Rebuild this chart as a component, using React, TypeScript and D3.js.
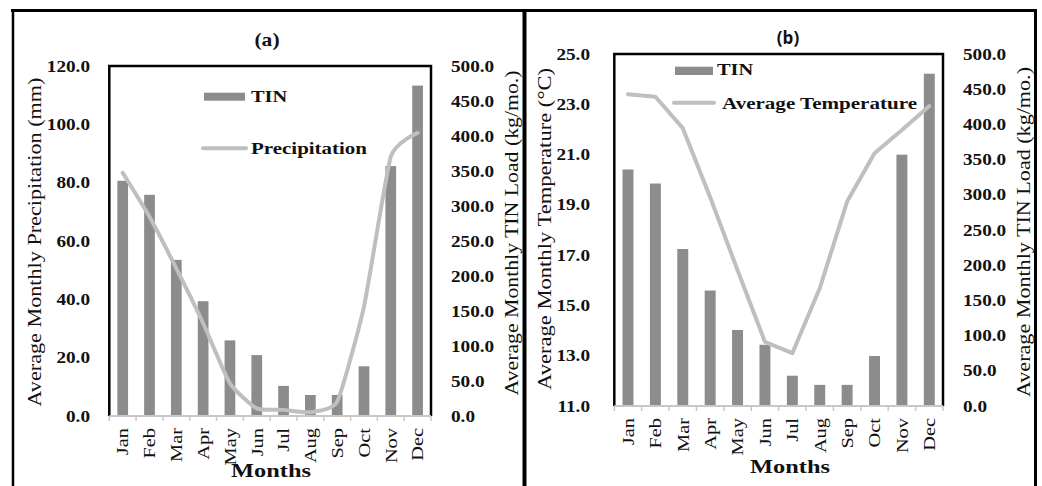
import React from "react";
import * as d3 from "d3";

// Monthly values shared by both panels
const months = ["Jan", "Feb", "Mar", "Apr", "May", "Jun", "Jul", "Aug", "Sep", "Oct", "Nov", "Dec"];
const tinLoad = [336, 316, 223, 164, 108, 87, 43, 30, 30, 71, 357, 472];
const precipitation = [83.4, 68.3, 50.6, 31.8, 11.2, 2.6, 2.1, 1.3, 4.9, 37.5, 88.9, 97.1];
const temperature = [23.4, 23.3, 22.05, 19.3, 16.4, 13.55, 13.1, 15.68, 19.13, 21.05, 21.98, 22.93];

// Tick values
const precipTicks = [0, 20, 40, 60, 80, 100, 120];
const tempTicks = [11, 13, 15, 17, 19, 21, 23, 25];
const loadTicks = [0, 50, 100, 150, 200, 250, 300, 350, 400, 450, 500];

const BAR = "#8c8c8c";
const LINE = "#bfbfbf";
const AXIS = "#c8c8c8";
const SERIF = "'Liberation Serif', 'Times New Roman', serif";
const INK = "#111";
const WIDE = 1.2; // horizontal widening of the serif face

type TProps = {
  x: number;
  y: number;
  children: React.ReactNode;
  size: number;
  bold?: boolean;
  anchor?: "start" | "middle" | "end";
  rotate?: number;
  len?: number;
  dy?: string;
  family?: string;
  sx?: number;
};

// text placed at (x,y), optionally rotated, widened by a scale or by an exact length
function T({ x, y, children, size, bold, anchor = "start", rotate = 0, len, dy, family = SERIF, sx = WIDE }: TProps) {
  const scale = len ? 1 : sx;
  return (
    <text
      transform={`translate(${x},${y}) rotate(${rotate}) scale(${scale},1)`}
      textAnchor={anchor}
      dy={dy}
      fontFamily={family}
      fontWeight={bold ? "bold" : "normal"}
      fontSize={size}
      fill={INK}
      textLength={len}
      lengthAdjust={len ? "spacingAndGlyphs" : undefined}
    >
      {children}
    </text>
  );
}

type PanelProps = {
  tag: string;
  tagX: number;
  tagY: number;
  tagSans: boolean;
  box: { x0: number; x1: number; y0: number; y1: number };
  leftDomain: [number, number];
  leftTicks: number[];
  lineValues: number[];
  curve: d3.CurveFactory;
  leftTitle: string;
  leftTitleX: number;
  leftTitleLen: number;
  leftTitleY: number;
  leftLabelX: number;
  rightLabelX: number;
  rightTitleX: number;
  rightTitleY: number;
  rightTitleLen: number;
  monthsX: number;
  monthsY: number;
  legend: {
    barX: number; barY: number; barW: number; barH: number; barTextX: number; barTextY: number;
    lineX: number; lineY: number; lineW: number; lineTextX: number; lineTextY: number;
    lineLabel: string; lineLabelLen: number;
  };
};

function Panel(p: PanelProps) {
  const { box } = p;
  const x = d3.scaleBand<string>().domain(months).range([box.x0, box.x1]).padding(0);
  const yL = d3.scaleLinear().domain(p.leftDomain).range([box.y1, box.y0]);
  const yR = d3.scaleLinear().domain([0, 500]).range([box.y1, box.y0]);
  const bw = x.bandwidth() * 0.4;
  const cx = (m: string) => (x(m) as number) + x.bandwidth() / 2;

  const linePath = d3
    .line<number>()
    .x((_, i) => cx(months[i]))
    .y((v) => yL(v))
    .curve(p.curve)(p.lineValues) as string;

  const boundaries = months.map((m) => x(m) as number).concat([box.x1]);
  const lg = p.legend;

  return (
    <g>
      {/* bars: TIN load on right axis */}
      {months.map((m, i) => (
        <rect key={m} x={cx(m) - bw / 2} y={yR(tinLoad[i])} width={bw} height={yR(0) - yR(tinLoad[i])} fill={BAR} />
      ))}
      {/* line on left axis */}
      <path d={linePath} fill="none" stroke={LINE} strokeWidth={4} strokeLinejoin="round" strokeLinecap="round" />

      {/* plot frame */}
      <path d={`M${box.x0},${box.y1} V${box.y0} H${box.x1} V${box.y1}`} fill="none" stroke="#000" strokeWidth={2.5} />
      {/* category axis */}
      <line x1={box.x0} x2={box.x1} y1={box.y1} y2={box.y1} stroke={AXIS} strokeWidth={2} />
      {boundaries.map((b, i) => (
        <line key={i} x1={b} x2={b} y1={box.y1} y2={box.y1 + 5} stroke={AXIS} strokeWidth={1.5} />
      ))}
      {months.map((m) => (
        <T key={m} x={cx(m)} y={box.y1 + 12} rotate={-90} anchor="end" dy="0.34em" size={17}>
          {m}
        </T>
      ))}
      <T x={p.monthsX} y={p.monthsY} anchor="middle" bold size={18} len={80}>
        Months
      </T>

      {/* left ticks */}
      {p.leftTicks.map((t) => (
        <T key={t} x={p.leftLabelX} y={yL(t)} dy="0.35em" anchor="end" bold size={16}>
          {t.toFixed(1)}
        </T>
      ))}
      {/* right ticks */}
      {loadTicks.map((t) => (
        <T key={t} x={p.rightLabelX} y={yR(t)} dy="0.35em" anchor="start" bold size={16}>
          {t.toFixed(1)}
        </T>
      ))}

      {/* axis titles */}
      <T x={p.leftTitleX} y={p.leftTitleY} rotate={-90} anchor="middle" size={18} len={p.leftTitleLen}>
        {p.leftTitle}
      </T>
      <T x={p.rightTitleX} y={p.rightTitleY} rotate={-90} anchor="middle" size={18} len={p.rightTitleLen}>
        Average Monthly TIN Load (kg/mo.)
      </T>

      {/* panel tag */}
      {p.tagSans ? (
        <T x={p.tagX} y={p.tagY} anchor="middle" bold size={17} family="'Open Sans', sans-serif" sx={1}>
          {p.tag}
        </T>
      ) : (
        <T x={p.tagX} y={p.tagY} anchor="middle" bold size={18}>
          {p.tag}
        </T>
      )}

      {/* legend */}
      <rect x={lg.barX} y={lg.barY} width={lg.barW} height={lg.barH} fill={BAR} />
      <T x={lg.barTextX} y={lg.barTextY} bold size={17}>
        TIN
      </T>
      <line x1={lg.lineX} x2={lg.lineX + lg.lineW} y1={lg.lineY} y2={lg.lineY} stroke={LINE} strokeWidth={4} strokeLinecap="round" />
      <T x={lg.lineTextX} y={lg.lineTextY} bold size={17} len={lg.lineLabelLen}>
        {lg.lineLabel}
      </T>
    </g>
  );
}

export default function App() {
  return (
    <svg width={1042} height={486} style={{ position: "absolute", left: 0, top: 0, background: "#fff" }}>
      <rect width={1042} height={486} fill="#fff" />
      {/* outer figure frame */}
      <line x1={11} x2={1037} y1={10.5} y2={10.5} stroke="#000" strokeWidth={3} />
      <line x1={13} x2={13} y1={9} y2={486} stroke="#000" strokeWidth={2.5} />
      <line x1={524.5} x2={524.5} y1={9} y2={486} stroke="#000" strokeWidth={4} />
      <line x1={1035.5} x2={1035.5} y1={9} y2={486} stroke="#000" strokeWidth={3} />

      <Panel
        tag="(a)"
        tagSans={false}
        tagX={267}
        tagY={46}
        box={{ x0: 109.3, x1: 431, y0: 66, y1: 416 }}
        leftDomain={[0, 120]}
        leftTicks={precipTicks}
        lineValues={precipitation}
        curve={d3.curveCardinal.tension(0.5)}
        leftTitle="Average Monthly Precipitation (mm)"
        leftTitleX={41}
        leftTitleY={242}
        leftTitleLen={329}
        leftLabelX={90}
        rightLabelX={451}
        rightTitleX={518}
        rightTitleY={233}
        rightTitleLen={325}
        monthsX={271}
        monthsY={477}
        legend={{
          barX: 204, barY: 92.7, barW: 41, barH: 8, barTextX: 251, barTextY: 101.7,
          lineX: 203, lineY: 148.3, lineW: 43, lineTextX: 251, lineTextY: 154,
          lineLabel: "Precipitation", lineLabelLen: 116,
        }}
      />
      <Panel
        tag="(b)"
        tagSans={true}
        tagX={788}
        tagY={44}
        box={{ x0: 614.3, x1: 943, y0: 54, y1: 406 }}
        leftDomain={[11, 25]}
        leftTicks={tempTicks}
        lineValues={temperature}
        curve={d3.curveLinear}
        leftTitle="Average Monthly Temperature (°C)"
        leftTitleX={551}
        leftTitleY={229}
        leftTitleLen={322}
        leftLabelX={590}
        rightLabelX={963}
        rightTitleX={1030}
        rightTitleY={232}
        rightTitleLen={330}
        monthsX={790}
        monthsY={473}
        legend={{
          barX: 675, barY: 66.7, barW: 38, barH: 8.3, barTextX: 717, barTextY: 75,
          lineX: 674, lineY: 102.7, lineW: 40, lineTextX: 722, lineTextY: 109,
          lineLabel: "Average Temperature", lineLabelLen: 195,
        }}
      />
    </svg>
  );
}
